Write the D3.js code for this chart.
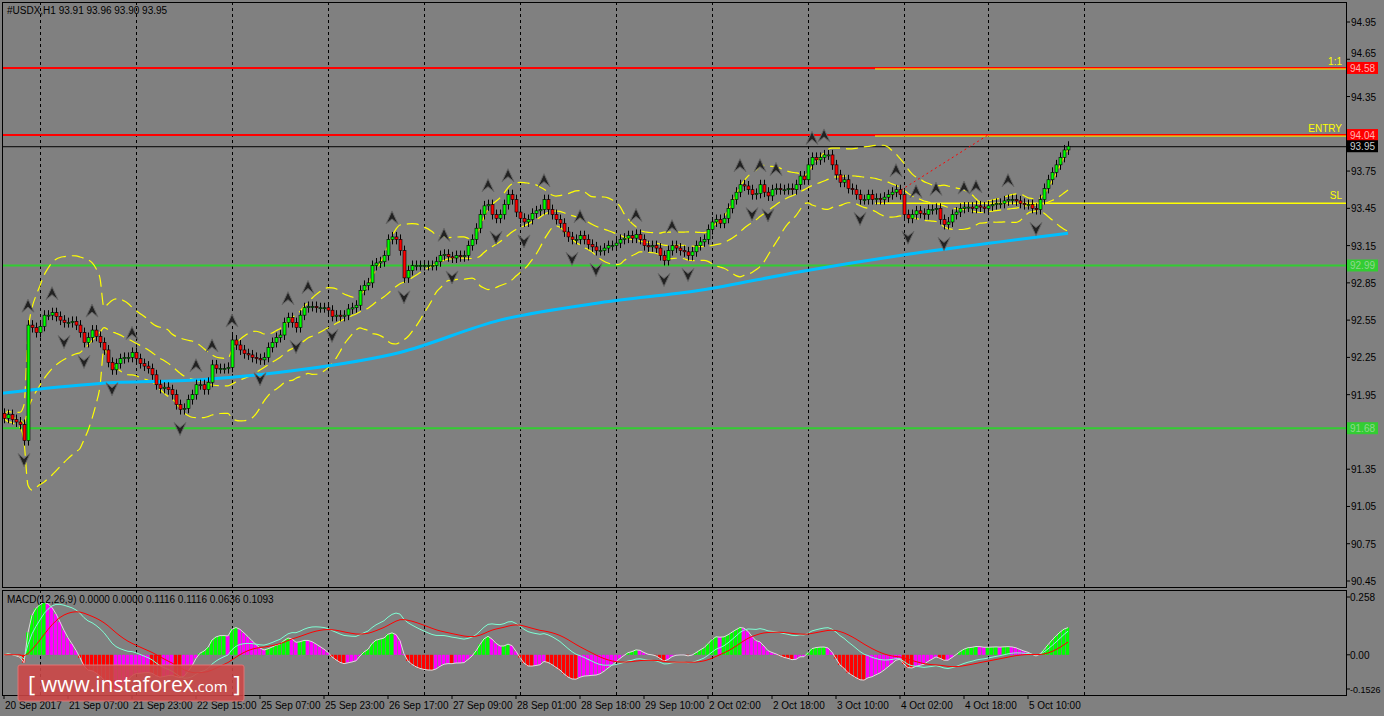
<!DOCTYPE html>
<html><head><meta charset="utf-8">
<script src="https://cdn.jsdelivr.net/npm/d3@7"></script>
<style>body{margin:0;background:#808080}svg{display:block}</style>
</head><body><svg id="chart"></svg>
<script>
// closes of each H1 bar
const closes = [91.76,91.79,91.75,91.73,91.71,91.58,92.51,92.49,92.45,92.50,92.59,92.59,92.61,92.58,92.55,92.53,92.53,92.54,92.51,92.45,
92.37,92.41,92.47,92.42,92.37,92.31,92.21,92.15,92.20,92.24,92.25,92.25,92.29,92.24,92.20,92.18,92.16,92.11,92.03,92.00,
92.01,91.99,91.95,91.87,91.83,91.84,91.91,91.95,92.03,92.03,91.99,92.05,92.19,92.16,92.16,92.16,92.17,92.39,92.35,92.31,
92.28,92.27,92.25,92.24,92.23,92.25,92.33,92.37,92.41,92.43,92.53,92.57,92.53,92.49,92.59,92.65,92.66,92.66,92.65,92.65,
92.65,92.63,92.58,92.59,92.58,92.59,92.64,92.65,92.67,92.79,92.83,92.85,92.99,93.01,93.02,93.07,93.20,93.22,93.20,93.11,
92.89,92.95,92.99,92.99,92.99,92.99,92.99,92.99,93.02,93.07,93.08,93.06,93.05,93.07,93.06,93.07,93.15,93.20,93.29,93.40,
93.47,93.48,93.40,93.37,93.40,93.48,93.56,93.52,93.42,93.37,93.34,93.36,93.41,93.43,93.44,93.52,93.44,93.40,93.36,93.33,
93.26,93.22,93.20,93.20,93.23,93.20,93.16,93.14,93.11,93.11,93.13,93.15,93.15,93.17,93.20,93.21,93.23,93.21,93.24,93.20,
93.15,93.14,93.15,93.13,93.07,93.03,93.11,93.15,93.13,93.11,93.10,93.07,93.10,93.15,93.18,93.20,93.28,93.34,93.36,93.33,
93.37,93.45,93.52,93.58,93.64,93.63,93.60,93.56,93.57,93.64,93.58,93.55,93.60,93.61,93.60,93.60,93.61,93.60,93.64,93.71,
93.68,93.80,93.86,93.84,93.86,93.88,93.88,93.80,93.72,93.66,93.68,93.61,93.60,93.56,93.52,93.52,93.56,93.52,93.53,93.52,
93.54,93.56,93.58,93.60,93.56,93.40,93.37,93.40,93.43,93.41,93.40,93.44,93.44,93.45,93.36,93.32,93.34,93.40,93.42,93.45,
93.46,93.46,93.45,93.47,93.46,93.45,93.47,93.48,93.49,93.49,93.51,93.52,93.52,93.51,93.49,93.48,93.48,93.45,93.44,93.52,
93.61,93.68,93.74,93.80,93.86,93.92,93.95];
const firstOpen = 91.80;
// slow moving average (blue), sampled at bar indices
const maBars = [-1,24,49,74,99,124,149,174,199,224,249,266];
const maVals = [91.96,92.04,92.07,92.15,92.29,92.55,92.69,92.79,92.94,93.07,93.18,93.25];
const priceTicks = [94.95,94.65,94.35,93.75,93.45,93.15,92.85,92.55,92.25,91.95,91.35,91.05,90.75,90.45];
const timeLabels = ["20 Sep 2017","21 Sep 07:00","21 Sep 23:00","22 Sep 15:00","25 Sep 07:00","25 Sep 23:00","26 Sep 17:00","27 Sep 09:00","28 Sep 01:00","28 Sep 18:00","29 Sep 10:00","2 Oct 02:00","2 Oct 18:00","3 Oct 10:00","4 Oct 02:00","4 Oct 18:00","5 Oct 10:00"];
const gridBars = [9,33,57,81,105,129,153,177,201,225,246,270];
const levels = [{p:94.58,c:"#ff0000",tag:"94.58",txt:"1:1"},{p:94.04,c:"#ff0000",tag:"94.04",txt:"ENTRY"},{p:92.99,c:"#32cd32",tag:"92.99"},{p:91.68,c:"#32cd32",tag:"91.68"}];
const slPrice = 93.49, lastPrice = 93.95;

const W=1384,H=716, L=2, R=1346, T=2, B=587, MT=590, MB=695;
const svg=d3.select("#chart").attr("width",W).attr("height",H).style("font-family","Liberation Sans, Arial").style("font-size","10px");
const x=d3.scaleLinear().domain([0,1]).range([4,8]);
const y=d3.scaleLinear().domain([90.45,94.95]).range([581,22]);
const ym=d3.scaleLinear().domain([-0.1526,0.258]).range([689,597]);

svg.append("defs").append("clipPath").attr("id","cm").append("rect").attr("x",L).attr("y",T).attr("width",R-L).attr("height",B-T);
svg.select("defs").append("clipPath").attr("id","cd").append("rect").attr("x",L).attr("y",MT).attr("width",R-L).attr("height",MB-MT);

const bars=closes.map((c,i)=>{const o=i?closes[i-1]:firstOpen;return {i,o,c,h:Math.max(o,c)+0.04,l:Math.min(o,c)-0.04};});

const g=svg.append("g");
gridBars.forEach(b=>{[[T,B],[MT,MB]].forEach(([a,z])=>g.append("line").attr("x1",x(b)+.5).attr("x2",x(b)+.5).attr("y1",a).attr("y2",z).attr("stroke","#000").attr("stroke-dasharray","3,3"));});

const main=svg.append("g").attr("clip-path","url(#cm)");
levels.forEach(d=>{main.append("line").attr("x1",L).attr("x2",R).attr("y1",y(d.p)).attr("y2",y(d.p)).attr("stroke",d.c).attr("stroke-width",2);
 if(d.txt) main.append("line").attr("x1",875).attr("x2",R).attr("y1",y(d.p)+1).attr("y2",y(d.p)+1).attr("stroke","#ffff00");});
main.append("line").attr("x1",L).attr("x2",R).attr("y1",y(lastPrice)+.5).attr("y2",y(lastPrice)+.5).attr("stroke","#000");
main.append("line").attr("x1",875).attr("x2",R).attr("y1",y(slPrice)).attr("y2",y(slPrice)).attr("stroke","#ffff00").attr("stroke-width",1.5);
main.append("line").attr("x1",880).attr("x2",988).attr("y1",y(slPrice)).attr("y2",y(94.04)).attr("stroke","#ff0000").attr("stroke-dasharray","2,3");

// bollinger bands (20,2)
const bb=closes.map((c,i)=>{const w=closes.slice(Math.max(0,i-19),i+1);const m=d3.mean(w),s=d3.deviation(w)||0;return {i,m,u:m+2*s,d:m-2*s};});
["u","m","d"].forEach(k=>main.append("path").datum(bb).attr("fill","none").attr("stroke","#ffff00").attr("stroke-width",1.2).attr("stroke-dasharray","12,6")
 .attr("d",d3.line().x(d=>x(d.i)).y(d=>y(d[k])).curve(d3.curveMonotoneX)));
main.append("path").datum(maBars.map((b,i)=>[b,maVals[i]])).attr("fill","none").attr("stroke","#00bfff").attr("stroke-width",3)
 .attr("d",d3.line().x(d=>x(d[0])).y(d=>y(d[1])).curve(d3.curveMonotoneX));

// candles
const cg=main.append("g").selectAll("g").data(bars).join("g");
cg.append("line").attr("x1",d=>x(d.i)+.5).attr("x2",d=>x(d.i)+.5).attr("y1",d=>y(d.h)).attr("y2",d=>y(d.l)).attr("stroke","#000");
cg.append("rect").attr("x",d=>x(d.i)-1).attr("width",3).attr("y",d=>y(Math.max(d.o,d.c))).attr("height",d=>Math.max(1,Math.abs(y(d.o)-y(d.c))))
 .attr("fill",d=>d.c>=d.o?"#00ff00":"#ff0000").attr("stroke","#000").attr("stroke-width",0.6);

// fractals: 5-bar extremes (strict on the left side)
bars.forEach((d,i)=>{if(i<2||i>bars.length-3)return;const lft=[bars[i-2],bars[i-1]],rgt=[bars[i+1],bars[i+2]];
 if(lft.every(b=>d.h>b.h)&&rgt.every(b=>d.h>=b.h)) main.append("path").attr("transform",`translate(${x(i)},${y(d.h)-14})`).attr("d","M-6,6L0,-7L6,6L0,1Z").attr("fill","#222").attr("stroke","#666");
 if(lft.every(b=>d.l<b.l)&&rgt.every(b=>d.l<=b.l)) main.append("path").attr("transform",`translate(${x(i)},${y(d.l)+14})`).attr("d","M-6,-6L0,7L6,-6L0,-1Z").attr("fill","#222").attr("stroke","#666");});

// MACD
const ema=(arr,n)=>{const k=2/(n+1);let e=arr[0];return arr.map(v=>e=v*k+e*(1-k));};
const e12=ema(closes,12),e26=ema(closes,26);const macd=e12.map((v,i)=>v-e26[i]);
const sig=ema(macd,9);const osc=macd.map((v,i)=>(v-sig[i])*2.5);
const md=svg.append("g").attr("clip-path","url(#cd)");
md.selectAll("rect").data(osc).join("rect").attr("x",(v,i)=>x(i)-2).attr("width",3.2)
 .attr("y",v=>Math.min(ym(v),ym(0))).attr("height",v=>Math.abs(ym(v)-ym(0)))
 .attr("fill",(v,i)=>{const up=i>0&&v>=osc[i-1];return v>=0?(up?"#00ff00":"#ff00ff"):(up?"#ff00ff":"#ff0000");});
md.append("path").datum(osc).attr("fill","none").attr("stroke","#ddd").attr("d",d3.line().x((v,i)=>x(i)).y(v=>ym(v)));
md.append("path").datum(macd).attr("fill","none").attr("stroke","#7fffd4").attr("d",d3.line().x((v,i)=>x(i)).y(v=>ym(v)));
md.append("path").datum(sig).attr("fill","none").attr("stroke","#ff0000").attr("d",d3.line().x((v,i)=>x(i)).y(v=>ym(v)));

[[T,B],[MT,MB]].forEach(([a,z])=>svg.append("rect").attr("x",L+.5).attr("y",a+.5).attr("width",R-L).attr("height",z-a).attr("fill","none").attr("stroke","#000"));

const ax=svg.append("g");
priceTicks.forEach(p=>{ax.append("line").attr("x1",R).attr("x2",R+4).attr("y1",y(p)).attr("y2",y(p)).attr("stroke","#000");
 ax.append("text").attr("x",R+5).attr("y",p===94.65?y(p)-2:y(p)+4).text(p.toFixed(2));});
[[0.258,"0.258"],[0,"0.00"],[-0.1526,"-0.1526"]].forEach(([v,t])=>{ax.append("line").attr("x1",R).attr("x2",R+4).attr("y1",ym(v)).attr("y2",ym(v)).attr("stroke","#000");
 ax.append("text").attr("x",R+4).attr("y",ym(v)+4).attr("font-size",t.length>5?"9px":"10px").text(t);});
const tag=(p,fill,t,col)=>{ax.append("rect").attr("x",R+1).attr("y",y(p)-6).attr("width",31).attr("height",12).attr("fill",fill);
 ax.append("text").attr("x",R+4).attr("y",y(p)+4).attr("fill",col).text(t);};
levels.forEach(d=>{tag(d.p,d.c,d.tag,d.c==="#ff0000"?"#ffb0b0":"#8fd88f");
 if(d.txt) ax.append("text").attr("x",R-4).attr("y",y(d.p)-3).attr("text-anchor","end").attr("fill","#ffff00").text(d.txt);});
tag(lastPrice,"#000","93.95","#ccc");
ax.append("text").attr("x",R-4).attr("y",y(slPrice)-4).attr("text-anchor","end").attr("fill","#ffff00").text("SL");

timeLabels.forEach((t,k)=>{const xx=x(k*16);ax.append("line").attr("x1",xx).attr("x2",xx).attr("y1",MB).attr("y2",MB+4).attr("stroke","#000");
 ax.append("text").attr("x",xx+1).attr("y",709).text(t);});

svg.append("text").attr("x",7).attr("y",14).text("#USDX,H1  93.91 93.96 93.90 93.95");
svg.append("text").attr("x",7).attr("y",603).text("MACD(12,26,9) 0.0000 0.0000 0.1116 0.1116 0.0636 0.1093");

const wm=svg.append("g");
wm.append("rect").attr("x",18).attr("y",665).attr("width",226).attr("height",36).attr("rx",2).attr("fill","rgba(205,70,70,0.88)").attr("stroke","rgba(230,120,120,0.9)");
const wt=wm.append("text").attr("x",28).attr("y",692).attr("fill","#fff").attr("font-family","Open Sans, Arial");
wt.append("tspan").attr("font-size","22px").text("[ ");
wt.append("tspan").attr("font-size","21px").text("www.instaforex");
wt.append("tspan").attr("font-size","15px").text(".com");
wt.append("tspan").attr("font-size","22px").text(" ]");
</script></body></html>
